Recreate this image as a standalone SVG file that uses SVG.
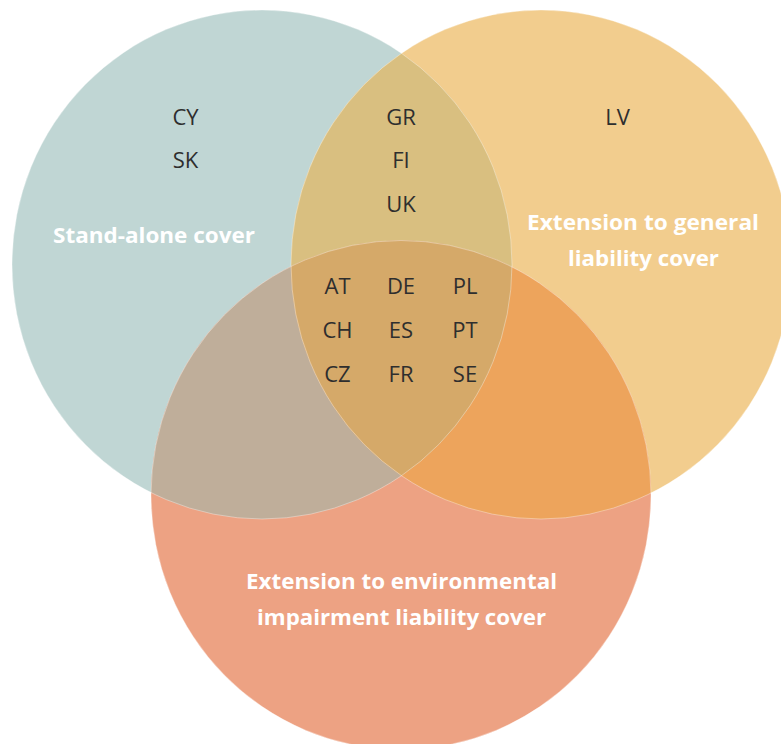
<svg xmlns="http://www.w3.org/2000/svg" width="781" height="744" viewBox="0 0 781 744">
<style>
.code{font-family:"Open Sans","Noto Sans","Liberation Sans",sans-serif;font-size:22px;fill:#2e2e2e;text-anchor:middle}
.lbl{font-family:"Open Sans","Noto Sans","Liberation Sans",sans-serif;font-size:21px;font-weight:bold;fill:#ffffff;text-anchor:middle}
.edge{fill:none;stroke:#ffffff;stroke-opacity:0.45;stroke-width:0.8}
</style>
<defs>
<clipPath id="cT"><ellipse cx="262" cy="264.5" rx="250" ry="254.5"/></clipPath>
<clipPath id="cY"><ellipse cx="541" cy="264.5" rx="250" ry="254.5"/></clipPath>
<clipPath id="cS"><ellipse cx="401" cy="495" rx="250" ry="254.5"/></clipPath>
</defs>
<rect width="781" height="744" fill="#ffffff"/>
<g id="standalone">
<ellipse cx="262" cy="264.5" rx="250" ry="254.5" fill="#c0d6d4"/>
</g>
<g id="general">
<ellipse cx="541" cy="264.5" rx="250" ry="254.5" fill="#f2cd8e"/>
</g>
<g id="environmental">
<ellipse cx="401" cy="495" rx="250" ry="254.5" fill="#eda283"/>
</g>
<g id="overlap-standalone-general" clip-path="url(#cT)">
<ellipse cx="541" cy="264.5" rx="250" ry="254.5" fill="#d9bf80"/>
</g>
<g id="overlap-standalone-environmental" clip-path="url(#cT)">
<ellipse cx="401" cy="495" rx="250" ry="254.5" fill="#bfae9a"/>
</g>
<g id="overlap-general-environmental" clip-path="url(#cY)">
<ellipse cx="401" cy="495" rx="250" ry="254.5" fill="#eda45c"/>
</g>
<g id="overlap-all" clip-path="url(#cT)">
<g clip-path="url(#cY)">
<ellipse cx="401" cy="495" rx="250" ry="254.5" fill="#d5a969"/>
</g>
</g>
<g id="edges">
<ellipse class="edge" cx="262" cy="264.5" rx="250" ry="254.5"/>
<ellipse class="edge" cx="541" cy="264.5" rx="250" ry="254.5"/>
<ellipse class="edge" cx="401" cy="495" rx="250" ry="254.5"/>
</g>
<g id="labels">
<text class="lbl" x="154" y="243" textLength="202" lengthAdjust="spacingAndGlyphs">Stand-alone cover</text>
<text class="lbl" x="643" y="230" textLength="232" lengthAdjust="spacingAndGlyphs">Extension to general</text>
<text class="lbl" x="643.5" y="266" textLength="151" lengthAdjust="spacingAndGlyphs">liability cover</text>
<text class="lbl" x="401.5" y="589" textLength="311" lengthAdjust="spacingAndGlyphs">Extension to environmental</text>
<text class="lbl" x="401.5" y="625" textLength="289" lengthAdjust="spacingAndGlyphs">impairment liability cover</text>
</g>
<g id="codes">
<text class="code" x="185.5" y="125">CY</text>
<text class="code" x="185.5" y="168">SK</text>
<text class="code" x="401" y="125">GR</text>
<text class="code" x="401" y="168">FI</text>
<text class="code" x="401" y="212">UK</text>
<text class="code" x="617.5" y="125">LV</text>
<text class="code" x="337.5" y="294">AT</text>
<text class="code" x="401" y="294">DE</text>
<text class="code" x="465" y="294">PL</text>
<text class="code" x="337.5" y="338">CH</text>
<text class="code" x="401" y="338">ES</text>
<text class="code" x="465" y="338">PT</text>
<text class="code" x="337.5" y="382">CZ</text>
<text class="code" x="401" y="382">FR</text>
<text class="code" x="465" y="382">SE</text>
</g>
</svg>
